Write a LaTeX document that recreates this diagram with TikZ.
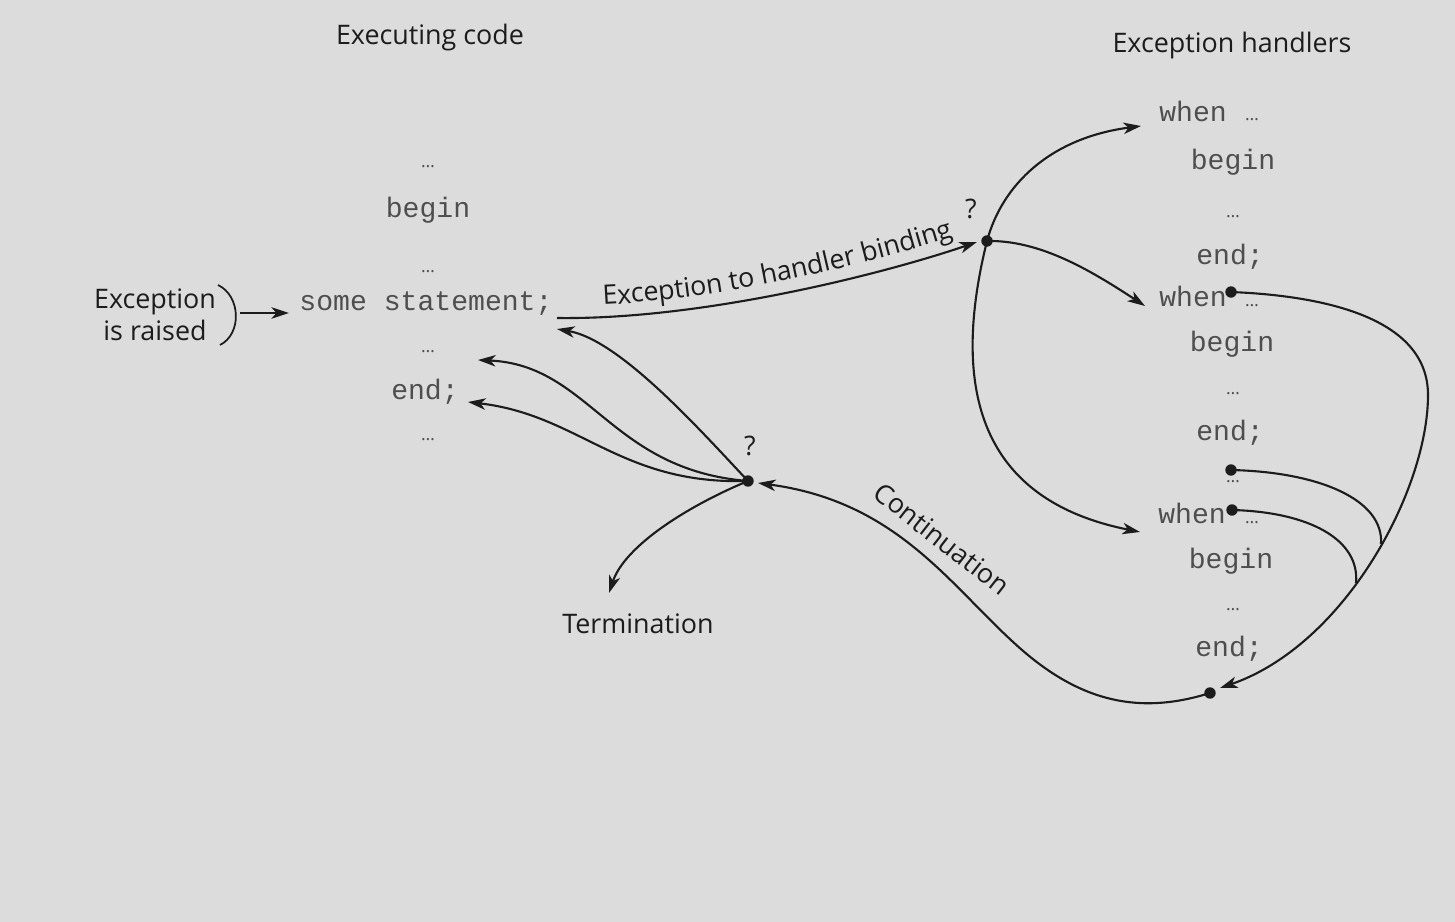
\documentclass[tikz,border=0pt]{standalone}
\usepackage{fontspec}
\setmainfont{Open Sans}
\setmonofont{Liberation Mono}
\usetikzlibrary{arrows.meta,decorations.text}
\definecolor{bg}{RGB}{220,220,220}
\definecolor{ink}{RGB}{28,28,28}
\definecolor{codeink}{RGB}{78,78,78}
\begin{document}
\begin{tikzpicture}[x=0.02cm,y=-0.02cm,
  lbl/.style={font=\fontsize{15.3}{18}\selectfont, text=ink, inner sep=0pt, anchor=base},
  code/.style={font=\ttfamily\fontsize{16}{18}\selectfont, text=codeink, inner sep=0pt, anchor=base},
  ell/.style={font=\fontsize{10}{11}\selectfont, text=codeink, inner sep=0pt, anchor=base},
  dotn/.style={circle, fill=ink, inner sep=0pt, minimum size=6.5pt},
  conn/.style={draw=ink, line width=1.2pt},
  arr/.style={conn, -{Stealth[length=10pt,width=6.5pt,inset=2.8pt]}},
]
\fill[bg] (0,0) rectangle (1455,922);
\useasboundingbox (0,0) rectangle (1455,922);

% headings
\node[lbl] (hexec) at (430,45) {Executing code};
\node[lbl] (hhand) at (1232,53) {Exception handlers};

% executing code column
\node[ell]  (c1) at (428,168) {…};
\node[code] (c2) at (428,218) {begin};
\node[ell]  (c3) at (428,273) {…};
\node[code] (c4) at (426,311) {some statement;};
\node[ell]  (c5) at (428,353) {…};
\node[code] (c6) at (425,399) {end;};
\node[ell]  (c7) at (428,440) {…};

% raised label
\node[lbl, align=center, anchor=center, font=\fontsize{15.3}{18.5}\selectfont] (raised) at (155,315) {Exception\\is raised};
\coordinate (b1) at (218,285);
\coordinate (b2) at (220,345);
\draw[conn, line width=1pt] (b1) .. controls (241,296) and (242,334) .. (b2);
\coordinate (ra) at (240,313);
\coordinate (rt) at (289,313);
\draw[arr] (ra) -- (rt);

% handlers column
\node[code, anchor=base west] (h1w) at (1159,122) {when};
\node[ell] (h1e) at (1252,121) {…};
\node[code] (h1b) at (1233,170) {begin};
\node[ell]  (h1d) at (1233,218) {…};
\node[code] (h1n) at (1230,265) {end;};

\node[code, anchor=base west] (h2w) at (1159,307) {when};
\node[ell] (h2e) at (1252,307) {…};
\node[code] (h2b) at (1232,352) {begin};
\node[ell]  (h2d) at (1233,395) {…};
\node[code] (h2n) at (1230,440) {end;};
\node[ell]  (h2x) at (1233,482) {…};

\node[code, anchor=base west] (h3w) at (1158,523) {when};
\node[ell] (h3e) at (1252,523) {…};
\node[code] (h3b) at (1231,568) {begin};
\node[ell]  (h3d) at (1233,610) {…};
\node[code] (h3n) at (1229,656) {end;};

% dots
\node[dotn] (d1) at (987,241) {};
\node[dotn] (d2) at (748,481) {};
\node[dotn] (d3) at (1210,693) {};
\node[dotn] (w2d) at (1231,292) {};
\node[dotn] (e2d) at (1231,470) {};
\node[dotn] (w3d) at (1232,510) {};

\node[lbl] (q1) at (971,219) {?};
\node[lbl] (q2) at (750,456) {?};

% binding
\coordinate (st) at (557,318);
\coordinate (bt) at (977,242);
\draw[arr] (st) .. controls (700,320) and (880,275) .. (bt);
\path[decorate, decoration={text along path, text align={right, right indent=12pt}, raise=7pt,
  text={|\fontsize{15.3}{18}\selectfont\color{ink}|Exception to handler binding}}]
  (st) .. controls (700,320) and (880,275) .. (bt);

% handler selection
\coordinate (h1t) at (1141,126);
\coordinate (h2t) at (1145,306);
\coordinate (h3t) at (1140,532);
\draw[arr] (d1.center) .. controls (1002,185) and (1050,138) .. (h1t);
\draw[arr] (d1.center) .. controls (1040,240) and (1090,270) .. (h2t);
\draw[arr] (d1.center) .. controls (950,390) and (980,500) .. (h3t);

% handler exits
\coordinate (ct) at (1220,688);
\coordinate (jr) at (1428,395);
\coordinate (j1) at (1381,544);
\coordinate (j2) at (1356,583);
\draw[conn] (w2d.center) .. controls (1330,296) and (1428,320) .. (jr);
\draw[arr] (jr) .. controls (1428,490) and (1345,645) .. (ct);
\draw[conn] (e2d.center) .. controls (1320,472) and (1384,500) .. (j1);
\draw[conn] (w3d.center) .. controls (1310,512) and (1360,540) .. (j2);

% continuation
\coordinate (cm) at (1022,650);
\coordinate (cnt) at (758,483);
\draw[arr] (d3.center) .. controls (1140,715) and (1082,702) .. (cm)
  .. controls (952,589) and (900,502) .. (cnt);
\node[lbl, anchor=center, rotate=-38] (contl) at (942,539) {Continuation};

% resumption targets
\coordinate (ta) at (557,329);
\coordinate (tb) at (478,360);
\coordinate (tc) at (468,402);
\coordinate (tt) at (609,593);
\draw[arr] (d2.center) .. controls (700,430) and (620,340) .. (ta);
\draw[arr] (d2.center) .. controls (610,470) and (590,365) .. (tb);
\draw[arr] (d2.center) .. controls (620,485) and (580,415) .. (tc);
\draw[arr] (d2.center) .. controls (690,505) and (625,545) .. (tt);
\node[lbl] (term) at (638,633) {Termination};
\end{tikzpicture}
\end{document}
